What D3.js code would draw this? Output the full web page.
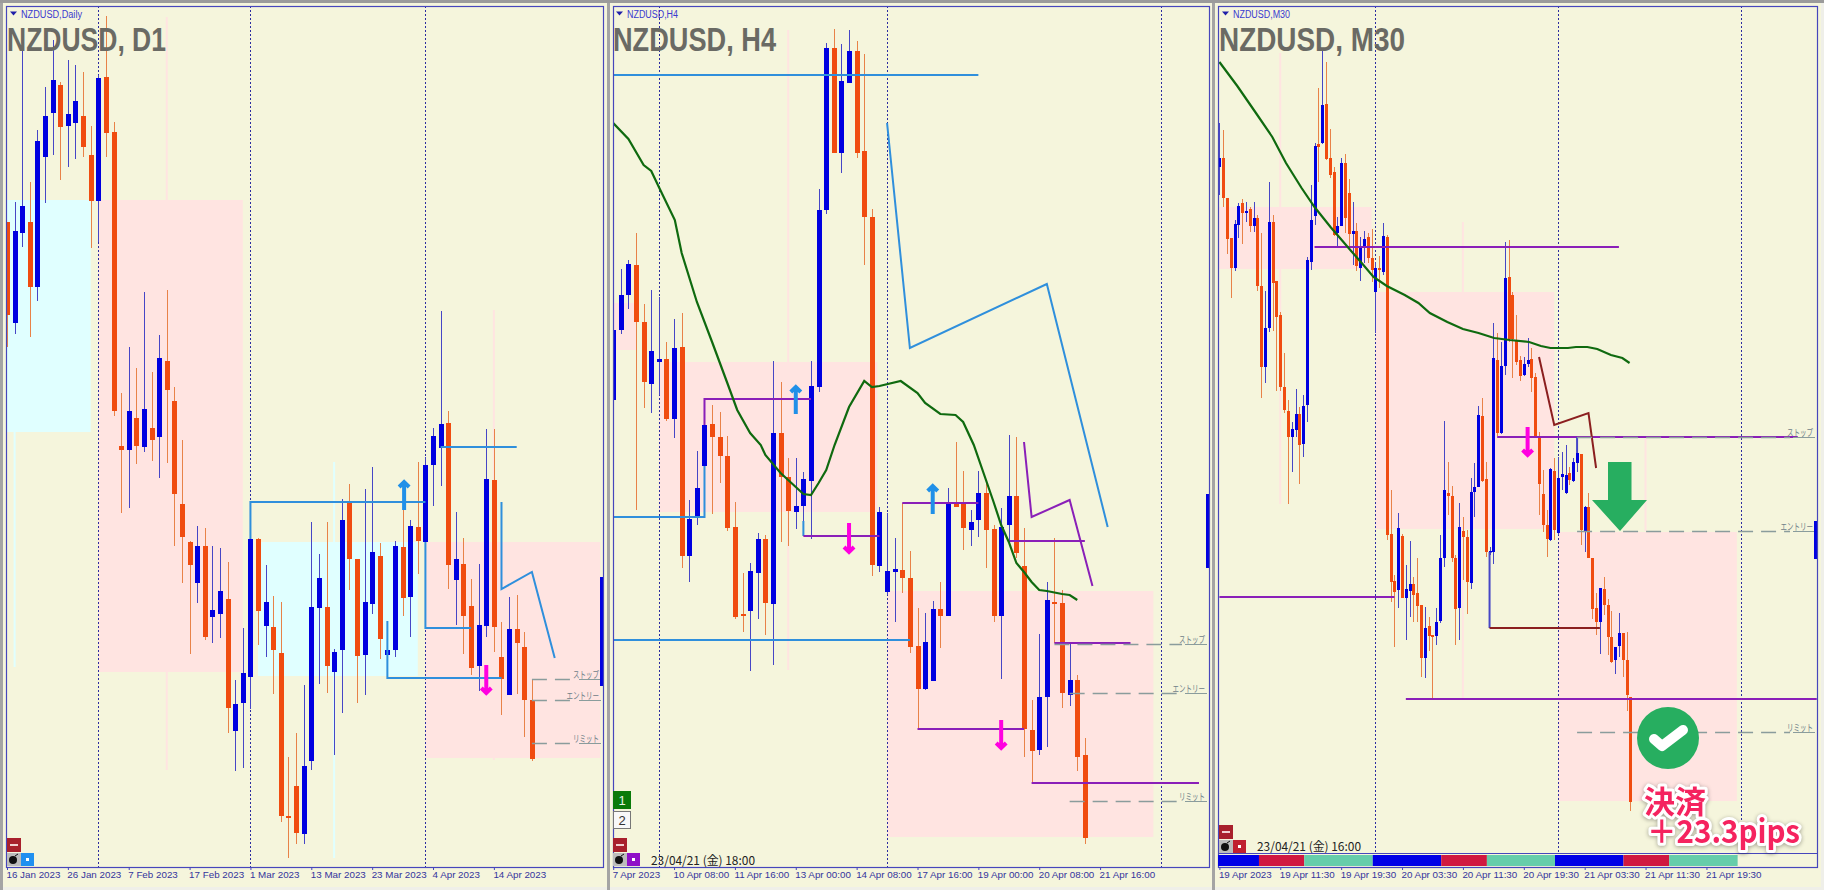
<!DOCTYPE html>
<html>
<head>
<meta charset="utf-8">
<script src="https://cdnjs.cloudflare.com/ajax/libs/d3/7.8.5/d3.min.js"></script>
<style>
  body { margin: 0; background: #efefe9; overflow: hidden; }
  svg { display: block; }
  text { font-family: "Liberation Sans", sans-serif; }
</style>
</head>
<body>
<div class="chart"></div>
<script>
// prices are in chart points. each row is [open, high, low, close]
const d1Ohlc = [
  [778,778,653,685],[677,798,666,769],[767,950,753,794],[778,818,663,713],[713,870,699,859],[843,913,797,884],
  [887,960,845,920],[915,918,820,873],[874,940,833,886],[877,935,841,899],[884,928,843,853],[845,874,752,799],
  [799,925,758,922],[923,984,843,867],[868,878,584,589],[554,607,487,550],[550,653,492,589],[582,632,536,554],
  [553,708,548,591],[572,628,539,560],[563,665,522,642],[639,710,537,610],[599,613,454,506],[496,560,417,463],
  [458,459,346,435],[417,474,397,454],[454,472,360,363],[383,454,357,390],[386,452,362,409],[401,438,267,292],
  [269,320,229,296],[297,372,232,327],[323,462,291,461],[461,462,355,389],[374,435,343,398],[373,404,306,350],
  [347,398,178,184],[184,243,142,182],[214,267,156,167],[166,315,156,234],[239,478,230,393],[392,446,316,422],
  [393,478,307,334],[328,351,245,348],[350,501,287,480],[499,516,410,441],[441,441,297,344],[345,511,305,398],
  [396,533,386,448],[444,457,341,361],[345,379,322,350],[350,459,343,454],[453,490,384,402],[403,480,363,474],
  [473,538,426,459],[458,543,372,535],[535,572,494,564],[552,689,514,576],[577,589,411,435],[420,488,375,441],
  [436,462,346,384],[394,421,325,332],[334,436,309,375],[374,571,363,521],[520,571,348,373],[343,378,285,321],
  [305,403,305,371],[371,405,306,357],[353,368,263,300],[300,320,239,241]
];
const h4Ohlc = [
  [600,680,520,670],[670,731,666,705],[705,740,691,736],[735,767,490,678],[678,696,592,618],[616,710,587,649],
  [638,703,605,641],[641,658,579,581],[581,681,562,652],[653,687,432,444],[444,500,418,481],[482,549,475,512],
  [534,576,525,575],[576,595,486,563],[563,588,517,544],[544,564,469,472],[473,498,381,383],[386,427,368,384],
  [389,437,329,429],[427,467,381,461],[461,465,365,397],[396,639,335,567],[567,618,458,523],[523,542,454,489],
  [488,542,471,494],[494,528,465,521],[519,639,461,614],[613,811,608,790],[790,957,786,952],[952,971,847,847],
  [847,956,827,919],[917,970,917,949],[949,959,842,847],[849,946,735,783],[783,791,424,435],[434,493,428,488],
  [408,487,405,429],[428,462,378,431],[430,497,407,422],[422,449,347,353],[354,392,271,311],[311,387,310,358],
  [319,399,319,391],[391,418,352,384],[384,512,384,497],[497,558,493,493],[497,529,450,472],[470,490,454,478],
  [480,529,463,507],[507,518,432,470],[471,475,378,384],[384,492,321,473],[475,565,458,504],[504,563,442,447],
  [434,472,243,271],[270,300,217,249],[250,366,245,303],[303,418,253,400],[398,462,357,396],[397,410,292,307],
  [305,357,294,320],[320,325,229,243],[245,262,156,162]
];
const m30Ohlc = [
  [833,877,805,842],[842,870,793,802],[802,802,746,761],[762,762,702,732],[732,780,729,776],[775,797,762,794],
  [797,801,756,787],[787,798,778,789],[791,793,768,774],[774,798,768,782],[782,785,709,714],[714,767,602,633],
  [633,709,617,672],[672,818,668,778],[778,785,669,717],[719,719,609,683],[685,688,609,613],[613,647,587,590],
  [589,600,496,563],[563,578,528,571],[570,611,563,586],[586,593,516,555],[556,605,543,594],[595,743,578,740],
  [738,815,730,780],[784,857,775,854],[856,912,818,853],[857,950,856,895],[896,938,840,841],[842,871,822,825],
  [828,833,764,765],[767,783,753,774],[774,842,774,837],[837,846,767,782],[807,821,753,766],[766,798,735,769],
  [769,777,729,734],[732,763,719,753],[752,769,737,761],[763,767,737,742],[742,771,718,730],[708,738,667,732],
  [732,744,712,730],[728,777,725,764],[763,765,460,465],[466,510,398,418],[419,425,353,408],[410,487,392,472],
  [464,466,402,402],[402,435,360,411],[409,459,383,416],[416,423,378,405],[407,442,378,394],[395,395,323,342],
  [342,393,322,372],[374,383,349,364],[365,365,300,363],[364,392,355,378],[379,465,377,442],[442,579,433,510],
  [507,538,485,504],[504,514,438,442],[442,445,355,391],[392,497,360,473],[469,483,420,463],[463,470,386,418],
  [417,522,411,508],[508,537,483,513],[513,594,513,585],[584,602,518,519],[521,538,443,448],[448,453,445,449],
  [448,677,436,642],[640,667,564,567],[567,658,566,634],[634,758,625,722],[723,760,658,661],[705,708,622,661],
  [660,685,635,638],[640,644,619,624],[625,643,624,636],[636,662,633,640],[641,652,608,622],[623,627,563,563],
  [564,568,485,516],[506,530,468,475],[475,490,443,461],[460,532,459,531],[529,542,460,470],[467,543,465,522],
  [523,548,510,526],[507,555,506,525],[527,533,515,520],[519,542,518,538],[537,562,528,547],[546,546,455,470],
  [468,494,448,493],[493,507,442,442],[442,442,381,391],[392,407,365,378],[378,412,346,412],[411,423,385,395],
  [395,401,345,363],[363,389,337,338],[340,353,326,353],[354,387,343,367],[367,367,323,340],[340,368,289,305],
  [303,303,189,198]
];

const d1Ticks = ["16 Jan 2023","26 Jan 2023","7 Feb 2023","17 Feb 2023","1 Mar 2023","13 Mar 2023","23 Mar 2023","4 Apr 2023","14 Apr 2023"];
const h4Ticks = ["7 Apr 2023","10 Apr 08:00","11 Apr 16:00","13 Apr 00:00","14 Apr 08:00","17 Apr 16:00","19 Apr 00:00","20 Apr 08:00","21 Apr 16:00"];
const m30Ticks = ["19 Apr 2023","19 Apr 11:30","19 Apr 19:30","20 Apr 03:30","20 Apr 11:30","20 Apr 19:30","21 Apr 03:30","21 Apr 11:30","21 Apr 19:30"];

// period separators, as bar numbers
const d1Seps = [12, 32, 55];
const h4Seps = [6, 36, 72];
const m30Seps = [41, 89, 137];

// zones: [first bar, last bar, upper, lower]
const d1Pink = [[12,31,800,328],[55,78,458,242]];
const d1Cyan = [[-1,11,800,568],[33,54,458,324]];
const h4Pink = [[-1,3,697,650],[6,34.7,638,488],[36,71,409,163]];
const m30Pink = [[-1,40,793,731],[41,88,708,471],[89,136,468,199]];

// faint one bar wide strips: [bar, upper, lower]
const d1PinkStrips = [[21,983,230],[64,690,240]];
const d1CyanStrips = [[43,538,142],[1,568,333]];
const h4PinkStrips = [[23,970,330]];
const m30PinkStrips = [[16,947,496],[64,778,300],[112,563,469]];

// drawn lines: lists of [bar, price]
const d1BlueLines = [
  [[32,461],[32,498],[55,498]],
  [[57,553],[67,553]],
  [[55,458],[55,372],[61,372]],
  [[50,379],[50,322],[65,322]],
  [[65,498],[65,411],[69,428],[72,342]]
];
const h4BlueLines = [
  [[0,925],[48,925]],
  [[0,483],[12,483],[12,534]],
  [[0,360],[39,360]],
  [[25,479],[25,464]],
  [[36,877],[39,652],[57,716],[65,473]]
];
const h4PurpleLines = [
  [[12,575],[12,601],[26,601]],
  [[25,464],[35,464]],
  [[38,497],[48,497]],
  [[52,459],[62,459]],
  [[58,357],[68,357]],
  [[40,271],[54,271]],
  [[55,217],[77,217]],
  [[54,558],[55,483],[60,500],[63,414]]
];
const m30PurpleLines = [
  [[25,753],[105,753]],
  [[0,403],[46,403]],
  [[49,301],[157,301]],
  [[73,563],[152,563]]
];
const m30BlueLines = [
  [[71,448],[71,372]],
  [[94,563],[94,547]]
];
const m30MaroonLines = [
  [[71,372],[100,372]],
  [[84,643],[88,575],[97,587],[99,532]]
];

// moving average
const h4MaBars = [0,2,4,5,6,8.1,9,11,13,15,16.3,18,19.4,20,22,24,25,26,27,28,29.1,31,33,34,35,37.8,40,41,43,45,46,47.4,49,50,51,52,53,54,55,56,57,59,60,61];
const h4MaVals = [877,861,835,829,813,780,747,698,658,617,590,567,555,545,527,513,506,505,517,530,555,593,619,613,614,619,607,597,586,585,578,555,520,498,475,458,437,428,418,410,409,406,405,400];
const m30MaBars = [0,4.7,9.6,13.9,17.5,21.6,25,29.2,34.4,37.4,40.5,44,48.7,52.3,55.3,59.9,64,68.1,72.2,76.3,81.4,84.5,87,91.6,93.7,96.7,99.3,102.9,105.9,107.8];
const m30MaVals = [938,914,887,863,837,812,793,773,750,737,723,714,705,697,687,678,671,667,662,660,658,654,652,652,653,653,651,645,642,637];

// arrows: [bar, tail, tip]
const d1BlueArrows = [[52.2,490,518]];
const d1PinkArrows = [[63,335,307]];
const h4BlueArrows = [[24,586,613],[42,486,514]];
const h4PinkArrows = [[31,477,448],[51,280,252]];
const m30PinkArrows = [[81,573,545]];

// trade levels, same order as levelNames
const levelNames = ["ストップ","エントリー","リミット"];
const d1Levels = [321,300,257];
const d1LevelBars = [69,69,69];
const h4Levels = [356,307,199];
const h4LevelBars = [58,60,60];
const m30Levels = [563,469,268];
const m30LevelBars = [94,94,94];

// short blue piece at the right edge of each chart: [upper, lower]
const d1Edge = [423,314];
const h4Edge = [506,432];
const m30Edge = [479,441];

// session strip under the M30 chart: bar where each block ends
const sessionEnds = [10.4,22.3,40.3,58.3,70.3,88.2,106.2,118.2,136.2];
const sessionNames = ["tokyo","london","ny","tokyo","london","ny","tokyo","london","ny"];

const blue = "#0000e0", orange = "#f04c10", blueWick = "#4646c6", orangeWick = "#e88248";
const lineBlue = "#2f8fdc", linePurple = "#8a1fb8", lineMaroon = "#8b1f1f";
const arrowBlue = "#2090e8", arrowPink = "#ff00e0";
const pink = "#ffe4e1", cyan = "#e0ffff", beige = "#f5f5dc", frameBlue = "#4646bc";
const frameTop = 6, frameBottom = 867;

const svg = d3.select(".chart").append("svg").attr("width", 1824).attr("height", 890);
const defs = svg.append("defs");

const yScale = d3.scaleLinear().domain([110, 1000]).range([890, 0]);

const panels = [
  {id:"d1", left:6, right:603, outer:[3,607], x0:7, domain:80, span:608.6, bodyW:5, plotBottom:frameBottom,
   ohlc:d1Ohlc, ticks:d1Ticks, tickStep:8, seps:d1Seps, pink:d1Pink, cyan:d1Cyan, pinkStrips:d1PinkStrips, cyanStrips:d1CyanStrips,
   lines:[[d1BlueLines,lineBlue]], blueArrows:d1BlueArrows, pinkArrows:d1PinkArrows,
   levels:d1Levels, levelBars:d1LevelBars, edge:d1Edge,
   title:"NZDUSD, D1", titleX:7, titleW:159, label:"NZDUSD,Daily", labelX:21, labelW:61, btnX:7, btnY:838, btn2:"#2090f0"},
  {id:"h4", left:613, right:1209, outer:[610,1212], x0:613.2, domain:80, span:608.6, bodyW:5, plotBottom:frameBottom,
   ohlc:h4Ohlc, ticks:h4Ticks, tickStep:8, seps:h4Seps, pink:h4Pink, cyan:[], pinkStrips:h4PinkStrips, cyanStrips:[],
   lines:[[h4BlueLines,lineBlue],[h4PurpleLines,linePurple]], blueArrows:h4BlueArrows, pinkArrows:h4PinkArrows,
   ma:[h4MaBars,h4MaVals], levels:h4Levels, levelBars:h4LevelBars, edge:h4Edge,
   title:"NZDUSD, H4", titleX:613, titleW:163, label:"NZDUSD,H4", labelX:627, labelW:51, btnX:613, btnY:838, btn2:"#9010c8",
   stamp:"23/04/21 (金) 18:00", stampX:651, stampY:865},
  {id:"m30", left:1218, right:1817, outer:[1215,1821], x0:1219.4, domain:160, span:608.8, bodyW:3, plotBottom:853,
   ohlc:m30Ohlc, ticks:m30Ticks, tickStep:16, seps:m30Seps, pink:m30Pink, cyan:[], pinkStrips:m30PinkStrips, cyanStrips:[],
   lines:[[m30PurpleLines,linePurple],[m30BlueLines,blueWick],[m30MaroonLines,lineMaroon]], blueArrows:[], pinkArrows:m30PinkArrows,
   ma:[m30MaBars,m30MaVals], levels:m30Levels, levelBars:m30LevelBars, edge:m30Edge,
   title:"NZDUSD, M30", titleX:1219, titleW:186, label:"NZDUSD,M30", labelX:1233, labelW:57, btnX:1219, btnY:825, btn2:"#c02030",
   stamp:"23/04/21 (金) 16:00", stampX:1257, stampY:851}
];

panels.forEach(drawPanel);
svg.append("rect").attr("width", 1824).attr("height", 3).attr("fill", "#9b9b9b");
drawM30Strip(panels[2]);
drawTradeResult();

function drawPanel(p) {
  const xScale = d3.scaleLinear().domain([0, p.domain]).range([p.x0, p.x0 + p.span]);
  const plotH = p.plotBottom - frameTop;

  // outer window and gutters
  svg.append("rect").attr("x", p.outer[0]).attr("y", 3).attr("width", p.outer[1] - p.outer[0]).attr("height", 884).attr("fill", beige);
  svg.append("rect").attr("x", p.outer[0] - 3).attr("y", 0).attr("width", 3).attr("height", 890).attr("fill", "#a4a4a4");

  defs.append("clipPath").attr("id", "clip-" + p.id).append("rect")
    .attr("x", p.left).attr("y", frameTop).attr("width", p.right - p.left).attr("height", plotH);

  const g = svg.append("g").attr("clip-path", `url(#clip-${p.id})`);

  const zone = (rows, fill) => g.append("g").selectAll("rect").data(rows).join("rect")
    .attr("x", d => xScale(d[0]))
    .attr("width", d => xScale(d[1]) - xScale(d[0]))
    .attr("y", d => yScale(d[2]))
    .attr("height", d => yScale(d[3]) - yScale(d[2]))
    .attr("fill", fill);
  zone(p.pink, pink);
  zone(p.cyan, cyan);

  const strip = (rows, fill) => g.append("g").selectAll("rect").data(rows).join("rect")
    .attr("x", d => xScale(d[0]) - 1)
    .attr("width", 2)
    .attr("y", d => yScale(d[1]))
    .attr("height", d => yScale(d[2]) - yScale(d[1]))
    .attr("fill", fill);
  strip(p.pinkStrips, pink);
  strip(p.cyanStrips, cyan);

  // period separators
  g.append("g").selectAll("line").data(p.seps).join("line")
    .attr("x1", d => Math.round(xScale(d)) + 0.5).attr("x2", d => Math.round(xScale(d)) + 0.5)
    .attr("y1", frameTop).attr("y2", p.plotBottom)
    .attr("stroke", "#2c2ca0").attr("stroke-dasharray", "2,2");

  // candles
  const up = d => d[3] >= d[0];
  const bars = g.append("g").selectAll("g").data(p.ohlc).join("g");
  bars.append("line")
    .attr("x1", (d, i) => Math.round(xScale(i)) + 0.5).attr("x2", (d, i) => Math.round(xScale(i)) + 0.5)
    .attr("y1", d => yScale(d[1])).attr("y2", d => yScale(d[2]))
    .attr("stroke", d => up(d) ? blueWick : orangeWick);
  bars.append("rect")
    .attr("x", (d, i) => Math.round(xScale(i)) + 0.5 - p.bodyW / 2)
    .attr("width", p.bodyW)
    .attr("y", d => yScale(Math.max(d[0], d[3])))
    .attr("height", d => Math.max(1.5, Math.abs(yScale(d[0]) - yScale(d[3]))))
    .attr("fill", d => up(d) ? blue : orange);

  // drawn lines
  const pathLine = d3.line().x(d => xScale(d[0])).y(d => yScale(d[1]));
  p.lines.forEach(([rows, color]) => {
    g.append("g").selectAll("path").data(rows).join("path")
      .attr("d", pathLine)
      .attr("fill", "none").attr("stroke", color).attr("stroke-width", 2);
  });

  // moving average
  if (p.ma) {
    const maLine = d3.line().x(d => xScale(d[0])).y(d => yScale(d[1]));
    g.append("path")
      .attr("d", maLine(p.ma[0].map((b, i) => [b, p.ma[1][i]])))
      .attr("fill", "none").attr("stroke", "#0f6a0f").attr("stroke-width", 2.2);
  }

  // arrows
  const arrow = (rows, color) => g.append("g").selectAll("path").data(rows).join("path")
    .attr("d", d => {
      const x = xScale(d[0]), y0 = yScale(d[1]), y1 = yScale(d[2]);
      const back = y1 > y0 ? -5 : 5;
      return `M${x},${y0}L${x},${y1}M${x - 5},${y1 + back}L${x},${y1}L${x + 5},${y1 + back}`;
    })
    .attr("fill", "none").attr("stroke", color).attr("stroke-width", 4);
  arrow(p.blueArrows, arrowBlue);
  arrow(p.pinkArrows, arrowPink);

  // stop / entry / limit levels
  p.levels.forEach((lv, i) => {
    const y = Math.round(yScale(lv)) + 0.5;
    g.append("line").attr("x1", xScale(p.levelBars[i])).attr("x2", p.right - 27)
      .attr("y1", y).attr("y2", y)
      .attr("stroke", "#8a9c9c").attr("stroke-width", 1.3).attr("stroke-dasharray", "15,8");
    g.append("line").attr("x1", p.right - 24).attr("x2", p.right - 2)
      .attr("y1", y).attr("y2", y)
      .attr("stroke", "#8a9c9c").attr("stroke-width", 1);
  });

  g.append("rect")
    .attr("x", p.right - 3).attr("width", 3)
    .attr("y", yScale(p.edge[0]))
    .attr("height", yScale(p.edge[1]) - yScale(p.edge[0]))
    .attr("fill", blue);

  // level names sit outside the clip so they are never cut at the frame
  p.levels.forEach((lv, i) => {
    const w = levelNames[i].length * 6.5;
    svg.append("text").attr("x", p.right - 4 - w).attr("y", Math.round(yScale(lv)) - 1)
      .attr("textLength", w).attr("lengthAdjust", "spacingAndGlyphs")
      .style("font-family", "'Noto Sans CJK JP'").style("font-size", "9.5px")
      .attr("fill", "#6f8088").text(levelNames[i]);
  });

  // frame
  svg.append("rect").attr("x", p.left + 0.5).attr("y", frameTop + 0.5)
    .attr("width", p.right - p.left).attr("height", frameBottom - frameTop)
    .attr("fill", "none").attr("stroke", frameBlue).attr("stroke-width", 1.2);

  // time axis
  const xAxis = d3.axisBottom(xScale)
    .tickValues(p.ticks.map((t, i) => i * p.tickStep))
    .tickFormat((d, i) => p.ticks[i])
    .tickSize(3).tickSizeOuter(0);
  const ax = svg.append("g")
    .attr("transform", `translate(0, ${frameBottom})`)
    .call(xAxis);
  ax.select(".domain").remove();
  ax.selectAll(".tick line").attr("stroke", frameBlue);
  ax.selectAll(".tick text")
    .attr("text-anchor", "start").attr("x", -1).attr("y", 4).attr("dy", "0.71em")
    .style("font-family", "'Liberation Sans'").style("font-size", "9.8px")
    .attr("fill", "#34349c");

  // titles
  svg.append("text").attr("x", p.titleX).attr("y", 51)
    .attr("textLength", p.titleW).attr("lengthAdjust", "spacingAndGlyphs")
    .style("font-size", "34px").style("font-weight", "bold")
    .attr("fill", "#6a6a64").text(p.title);
  svg.append("path")
    .attr("d", `M${p.labelX - 11},11.5h7l-3.5,4z`).attr("fill", "#2020a8");
  svg.append("text").attr("x", p.labelX).attr("y", 18)
    .attr("textLength", p.labelW).attr("lengthAdjust", "spacingAndGlyphs")
    .style("font-size", "10px").attr("fill", "#3a3ad0").text(p.label);

  // corner buttons
  const btn = svg.append("g");
  btn.append("rect").attr("x", p.btnX).attr("y", p.btnY).attr("width", 14).attr("height", 14).attr("fill", "#a8202c");
  btn.append("rect").attr("x", p.btnX + 3).attr("y", p.btnY + 6).attr("width", 8).attr("height", 2).attr("fill", "#f0d0d0");
  btn.append("rect").attr("x", p.btnX).attr("y", p.btnY + 15).attr("width", 14).attr("height", 13).attr("fill", "#bcbcbc");
  btn.append("circle").attr("cx", p.btnX + 6).attr("cy", p.btnY + 22).attr("r", 4).attr("fill", "#111");
  btn.append("path").attr("d", `M${p.btnX + 8},${p.btnY + 18}l3,-2`).attr("stroke", "#111");
  btn.append("rect").attr("x", p.btnX + 14).attr("y", p.btnY + 15).attr("width", 13).attr("height", 13).attr("fill", p.btn2);
  btn.append("rect").attr("x", p.btnX + 19).attr("y", p.btnY + 20).attr("width", 3).attr("height", 3).attr("fill", "#fff");

  if (p.stamp) {
    svg.append("text").attr("x", p.stampX).attr("y", p.stampY)
      .attr("textLength", 104).attr("lengthAdjust", "spacingAndGlyphs")
      .style("font-family", "'Noto Sans CJK JP'").style("font-size", "12px")
      .attr("fill", "#222").text(p.stamp);
  }

  if (p.id == "h4") {
    svg.append("rect").attr("x", 613).attr("y", 791).attr("width", 18).attr("height", 18).attr("fill", "#0a7a0a");
    svg.append("text").attr("x", 622).attr("y", 805).attr("text-anchor", "middle")
      .style("font-size", "13px").attr("fill", "#e8f4e8").text("1");
    svg.append("rect").attr("x", 613.5).attr("y", 811.5).attr("width", 17).attr("height", 17).attr("fill", "#f8f8f8").attr("stroke", "#777");
    svg.append("text").attr("x", 622).attr("y", 825).attr("text-anchor", "middle")
      .style("font-size", "13px").attr("fill", "#333").text("2");
  }
}

function drawM30Strip(p) {
  const xScale = d3.scaleLinear().domain([0, p.domain]).range([p.x0, p.x0 + p.span]);
  const sessionColor = d3.scaleOrdinal().domain(["tokyo","london","ny"]).range(["#0000e6","#d01840","#66cdaa"]);
  svg.append("line").attr("x1", p.left).attr("x2", p.right).attr("y1", 853.5).attr("y2", 853.5).attr("stroke", frameBlue);
  svg.append("g").selectAll("rect").data(sessionEnds).join("rect")
    .attr("x", (d, i) => i == 0 ? p.left : xScale(sessionEnds[i - 1]))
    .attr("width", (d, i) => xScale(d) - (i == 0 ? p.left : xScale(sessionEnds[i - 1])))
    .attr("y", 855).attr("height", 11)
    .attr("fill", (d, i) => sessionColor(sessionNames[i]));
}

function drawTradeResult() {
  // green overlay drawn on top of the M30 chart
  svg.append("path")
    .attr("d", "M1608,462H1631.5V500H1647L1620,531L1592,500H1608Z")
    .attr("fill", "#27ae60");
  svg.append("circle").attr("cx", 1668).attr("cy", 738).attr("r", 31).attr("fill", "#27ae60");
  svg.append("path").attr("d", "M1654,739L1662,746L1683,730")
    .attr("fill", "none").attr("stroke", "#fff").attr("stroke-width", 10)
    .attr("stroke-linecap", "round").attr("stroke-linejoin", "round");
  const result = svg.append("g")
    .style("filter", "drop-shadow(0 1px 2px rgba(0,0,0,.35))");
  const label = (txt, x, y, size, w) => result.append("text").attr("x", x).attr("y", y)
    .attr("textLength", w).attr("lengthAdjust", "spacingAndGlyphs")
    .style("font-size", size + "px").style("font-family", "'Noto Sans CJK JP'").style("font-weight", "bold")
    .attr("fill", "#f5235f").attr("stroke", "#fff").attr("stroke-width", 6)
    .attr("stroke-linejoin", "round").attr("paint-order", "stroke").text(txt);
  label("決済", 1644, 813, 31, 62);
  label("＋23.3pips", 1647, 843, 32, 153);
}
</script>
</body>
</html>
